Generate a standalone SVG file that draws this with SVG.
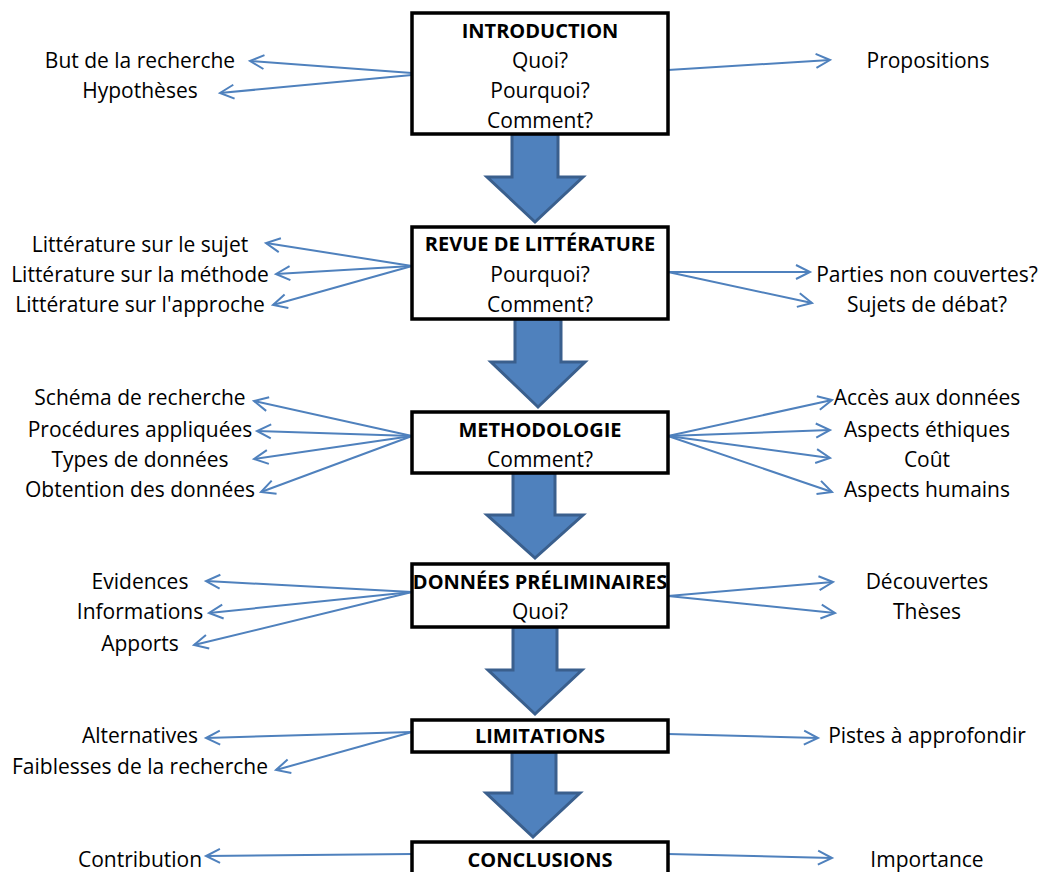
<svg xmlns="http://www.w3.org/2000/svg" width="1047" height="872" viewBox="0 0 1047 872">
<defs>
<style>
.box{fill:#fff;stroke:#000;stroke-width:3.5}
.blk{fill:#4F81BD;stroke:#3A5F8D;stroke-width:3;stroke-linejoin:miter}
.t{font-family:"Open Sans","Liberation Sans",sans-serif;font-size:21px;fill:#000;text-anchor:middle}
.b{font-weight:bold;font-size:20px}
.c{stroke:#4F81BD;stroke-width:2;fill:none;marker-end:url(#ah)}
</style>
<marker id="ah" markerWidth="18" markerHeight="16" refX="15" refY="8" orient="auto" markerUnits="userSpaceOnUse" overflow="visible">
<path d="M1,1 L15,8 L1,15" fill="none" stroke="#4F81BD" stroke-width="2"/>
</marker>
</defs>
<g id="connectors">
<line class="c" x1="412" y1="73" x2="250" y2="61"/>
<line class="c" x1="412" y1="75" x2="220" y2="93"/>
<line class="c" x1="668" y1="70" x2="830" y2="60"/>
<line class="c" x1="412" y1="266" x2="266" y2="243"/>
<line class="c" x1="412" y1="266" x2="276" y2="274"/>
<line class="c" x1="412" y1="266" x2="273" y2="305"/>
<line class="c" x1="668" y1="272" x2="810" y2="272"/>
<line class="c" x1="668" y1="272" x2="812" y2="303"/>
<line class="c" x1="412" y1="436" x2="254" y2="401"/>
<line class="c" x1="412" y1="436" x2="257" y2="431"/>
<line class="c" x1="412" y1="436" x2="254" y2="459"/>
<line class="c" x1="412" y1="436" x2="261" y2="492"/>
<line class="c" x1="668" y1="436" x2="832" y2="400"/>
<line class="c" x1="668" y1="436" x2="830" y2="430"/>
<line class="c" x1="668" y1="436" x2="830" y2="458"/>
<line class="c" x1="668" y1="436" x2="832" y2="492"/>
<line class="c" x1="412" y1="592" x2="206" y2="581"/>
<line class="c" x1="412" y1="592" x2="209" y2="613"/>
<line class="c" x1="412" y1="592" x2="194" y2="645"/>
<line class="c" x1="668" y1="596" x2="833" y2="582"/>
<line class="c" x1="668" y1="596" x2="835" y2="613"/>
<line class="c" x1="412" y1="732" x2="206" y2="738"/>
<line class="c" x1="412" y1="732" x2="276" y2="770"/>
<line class="c" x1="668" y1="734" x2="818" y2="738"/>
<line class="c" x1="412" y1="854" x2="206" y2="856"/>
<line class="c" x1="668" y1="854" x2="832" y2="858"/>
</g>
<g id="flow-arrows">
<path class="blk" d="M512,134 L558,134 L558,177 L583,177 L535,222 L487,177 L512,177 Z"/>
<path class="blk" d="M515,319 L561,319 L561,362 L585,362 L538,407 L491,362 L515,362 Z"/>
<path class="blk" d="M513,473 L555,473 L555,515 L583,515 L535,558 L487,515 L513,515 Z"/>
<path class="blk" d="M513,627 L557,627 L557,670 L582,670 L535,714 L488,670 L513,670 Z"/>
<path class="blk" d="M512,752 L556,752 L556,793 L580,793 L533,837 L486,793 L512,793 Z"/>
</g>
<g id="introduction">
<rect class="box" x="412" y="13" width="256" height="121"/>
<text class="t b" x="540" y="38">INTRODUCTION</text>
<text class="t" x="540" y="68">Quoi?</text>
<text class="t" x="540" y="98">Pourquoi?</text>
<text class="t" x="540" y="128">Comment?</text>
</g>
<g id="revue">
<rect class="box" x="412" y="227" width="256" height="92"/>
<text class="t b" x="540" y="251">REVUE DE LITTÉRATURE</text>
<text class="t" x="540" y="282">Pourquoi?</text>
<text class="t" x="540" y="312">Comment?</text>
</g>
<g id="methodologie">
<rect class="box" x="412" y="412" width="256" height="61"/>
<text class="t b" x="540" y="437">METHODOLOGIE</text>
<text class="t" x="540" y="467">Comment?</text>
</g>
<g id="donnees">
<rect class="box" x="412" y="564" width="256" height="63"/>
<text class="t b" x="540" y="589">DONNÉES PRÉLIMINAIRES</text>
<text class="t" x="540" y="619">Quoi?</text>
</g>
<g id="limitations">
<rect class="box" x="412" y="720" width="256" height="32"/>
<text class="t b" x="540" y="743">LIMITATIONS</text>
</g>
<g id="conclusions">
<rect class="box" x="412" y="842" width="256" height="40"/>
<text class="t b" x="540" y="867">CONCLUSIONS</text>
</g>
<g id="labels">
<text class="t" x="140" y="68">But de la recherche</text>
<text class="t" x="140" y="98">Hypothèses</text>
<text class="t" x="928" y="68">Propositions</text>
<text class="t" x="140" y="252">Littérature sur le sujet</text>
<text class="t" x="140" y="282">Littérature sur la méthode</text>
<text class="t" x="140" y="312">Littérature sur l'approche</text>
<text class="t" x="927" y="282">Parties non couvertes?</text>
<text class="t" x="927" y="312">Sujets de débat?</text>
<text class="t" x="140" y="405">Schéma de recherche</text>
<text class="t" x="140" y="437">Procédures appliquées</text>
<text class="t" x="140" y="467">Types de données</text>
<text class="t" x="140" y="497">Obtention des données</text>
<text class="t" x="927" y="405">Accès aux données</text>
<text class="t" x="927" y="437">Aspects éthiques</text>
<text class="t" x="927" y="467">Coût</text>
<text class="t" x="927" y="497">Aspects humains</text>
<text class="t" x="140" y="589">Evidences</text>
<text class="t" x="140" y="619">Informations</text>
<text class="t" x="140" y="651">Apports</text>
<text class="t" x="927" y="589">Découvertes</text>
<text class="t" x="927" y="619">Thèses</text>
<text class="t" x="140" y="743">Alternatives</text>
<text class="t" x="140" y="774">Faiblesses de la recherche</text>
<text class="t" x="927" y="743">Pistes à approfondir</text>
<text class="t" x="140" y="867">Contribution</text>
<text class="t" x="927" y="867">Importance</text>
</g>
</svg>
